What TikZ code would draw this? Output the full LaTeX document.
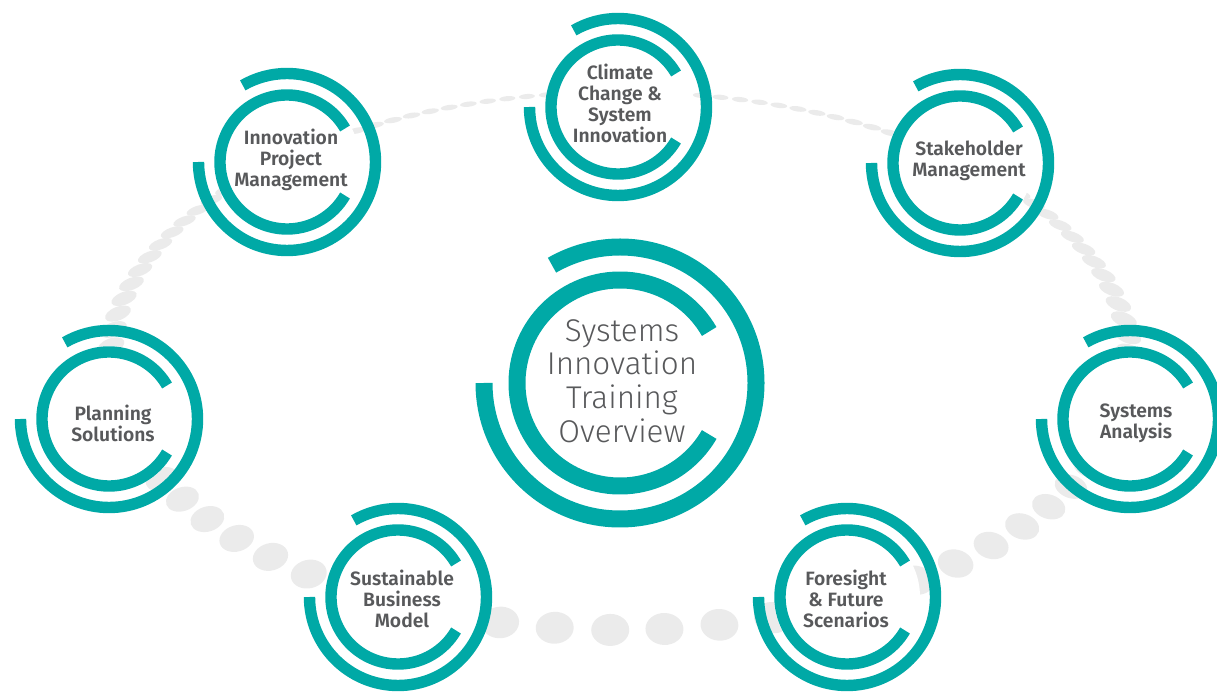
\documentclass[tikz,border=0pt]{standalone}
\usepackage{fontspec}
\setmainfont{Fira Sans}[UprightFont={* Light},BoldFont={* SemiBold}]
\definecolor{sitteal}{HTML}{00A9A6}
\definecolor{sitgray}{HTML}{58595B}
\definecolor{sitdot}{HTML}{EBEBEB}
\begin{document}
\begin{tikzpicture}[x=0.7pt,y=0.7pt,
	ring/.style={sitteal,line width=8pt},
	bigring/.style={sitteal,line width=11.9pt},
	badgetext/.style={text=sitgray,align=center,inner sep=0pt,font=\bfseries\fontsize{13.5}{14.7}\selectfont},
	bigtext/.style={text=sitgray,align=center,inner sep=0pt,font=\fontsize{22}{23.5}\selectfont}]
		\useasboundingbox (0,0) rectangle (1217,691);
		% Points (depuis le bas, vers la droite puis vers la gauche)
		\foreach \side/\start in {1/5,-1/1.1}{
			\gdef\psi{\start}
			\foreach \i in {1,...,60}{
				\ifdim\psi pt<181pt
					\pgfmathsetmacro\t{-90+\side*\psi}
					\pgfmathsetmacro\s{(1+cos(\psi))/2+0.001}
					\pgfmathsetmacro\w{0.35*(15+23*\s^0.7)}
					\pgfmathsetmacro\h{0.35*(5+27*\s^1.3)}
					\pgfmathsetmacro\r{-22*cos(\t)}
					\fill[sitdot] ({620+510*cos(\t)},{330+269*sin(\t)}) ellipse [x radius=\w pt,y radius=\h pt,rotate=\r];
					\pgfmathsetmacro\nx{\psi+2.25+4*\s^1.5}
					\xdef\psi{\nx}
				\fi
			}
		}
		% Cercles
		\foreach \name/\x/\y/\tx/\ty/\txt in {
			ipm/287/529/291/531/{Innovation\\Project\\Management},
			ccsi/618/584/620/588/{Climate\\Change \&\\System\\Innovation},
			sm/960/528/969/530/{Stakeholder\\Management},
			ps/109/272/113/268/{Planning\\Solutions},
			sbm/398/94/402/92/{Sustainable\\Business\\Model},
			ffs/847/94/846/92/{Foresight\\\& Future\\Scenarios},
			sa/1130/272/1136/268/{Systems\\Analysis}}{
			\coordinate (\name-c) at (\x,\y);
			\fill[white] (\name-c) circle (73);
			\draw[ring] (\name-c) ++(30:67) arc[start angle=30,end angle=330,radius=67];
			\draw[ring] (\name-c) ++(180:88.5) arc[start angle=180,end angle=480,radius=88.5];
			\node[badgetext] (\name) at (\tx,\ty) {\txt};
		}
		\coordinate (sit-c) at (620,308);
		\fill[white] (sit-c) circle (111);
		\draw[bigring] (sit-c) ++(30:103) arc[start angle=30,end angle=330,radius=103];
		\draw[bigring] (sit-c) ++(180:136) arc[start angle=180,end angle=480,radius=136];
		\node[bigtext] (sit) at (622,310) {Systems\\Innovation\\Training\\Overview};
		\end{tikzpicture}
\end{document}
